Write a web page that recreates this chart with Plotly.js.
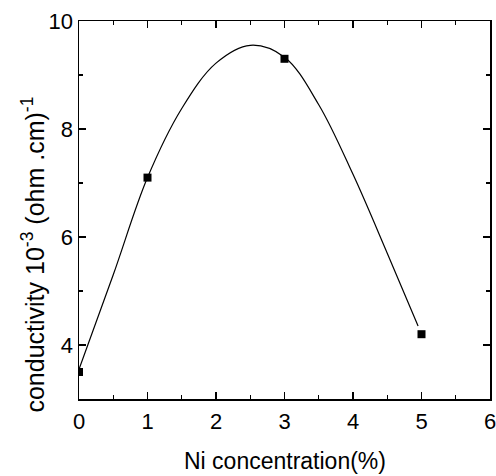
<!DOCTYPE html>
<html>
<head>
<meta charset="utf-8">
<script src="https://cdn.plot.ly/plotly-3.0.1.min.js"></script>
<style>html,body{margin:0;padding:0;background:#fff;}#chart{width:496px;height:476px;}</style>
</head>
<body>
<div id="chart"></div>
<script>
// measured points
const niConc = [0, 1, 3, 5];
const conductivity = [3.5, 7.1, 9.3, 4.2];
// fitted curve
const fitX = [0, 0.5, 1, 1.5, 2, 2.5, 3, 3.5, 4, 4.5, 4.95];
const fitY = [3.55, 5.3, 7.1, 8.38, 9.22, 9.55, 9.33, 8.45, 7.16, 5.7, 4.35];
const xTicks = [0, 1, 2, 3, 4, 5, 6];
const yTicks = [4, 6, 8, 10];
const xTitle = 'Ni concentration(%)';
const yTitle = 'conductivity 10<sup>-3</sup> (ohm .cm)<sup>-1</sup>';

const FONT = 'Liberation Sans, Arial, sans-serif';

const traces = [
  {x: fitX, y: fitY, type: 'scatter', mode: 'lines',
   line: {color: '#000', width: 1.2, shape: 'spline', smoothing: 1}, hoverinfo: 'skip'},
  {x: niConc, y: conductivity, type: 'scatter', mode: 'markers',
   marker: {symbol: 'square', size: 8, color: '#000'}}
];

const axisCommon = {
  showgrid: false, zeroline: false, showline: true, linecolor: '#000', linewidth: 1.5,
  mirror: 'allticks', ticks: 'inside', ticklen: 7, tickwidth: 1.2, tickcolor: '#000',
  tickfont: {family: FONT, size: 22, color: '#000'},
  ticklabeloverflow: 'allow',
  minor: {ticks: 'inside', ticklen: 4, tickwidth: 1.2, tickcolor: '#000', showgrid: false}
};

const layout = {
  width: 496, height: 476,
  margin: {l: 79, r: 6, t: 21, b: 77},
  paper_bgcolor: '#fff', plot_bgcolor: '#fff',
  showlegend: false,
  xaxis: Object.assign({}, axisCommon, {
    range: [0, 6], tickvals: xTicks, ticktext: xTicks.map(String), ticklabelstandoff: 2,
    minor: Object.assign({}, axisCommon.minor, {dtick: 0.5, tick0: 0})
  }),
  yaxis: Object.assign({}, axisCommon, {
    range: [3, 10], tickvals: yTicks, ticktext: yTicks.map(String),
    minor: Object.assign({}, axisCommon.minor, {dtick: 1, tick0: 0})
  }),
  annotations: [
    {text: xTitle, xref: 'paper', yref: 'paper', x: 0.5, y: -0.1636,
     xanchor: 'center', yanchor: 'middle', showarrow: false,
     font: {family: FONT, size: 23, color: '#000'}},
    {text: yTitle, xref: 'paper', yref: 'paper', x: -0.112, y: 0.382, textangle: -90,
     xanchor: 'center', yanchor: 'middle', showarrow: false,
     font: {family: FONT, size: 25, color: '#000'}}
  ]
};

Plotly.newPlot('chart', traces, layout, {displayModeBar: false, staticPlot: true});
</script>
</body>
</html>
